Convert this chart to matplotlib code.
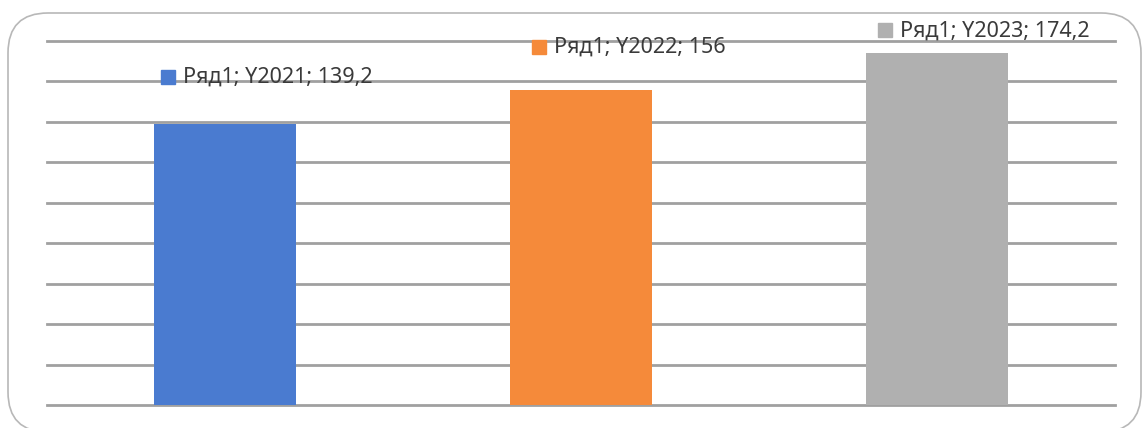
import matplotlib.pyplot as plt
import matplotlib.transforms as mtransforms
from matplotlib.patches import FancyBboxPatch

# data
series = "Ряд1"
years = ["Y2021", "Y2022", "Y2023"]
values = [139.2, 156, 174.2]
labels = ["139,2", "156", "174,2"]
colors = ["#4a7bd0", "#f58a3a", "#b0b0b0"]

# label offsets in pixels (marker dx, dy), text starts 15 px right of marker
lab_off = [(-57, 47), (-42, 43), (-52, 23)]

W, H = 1142, 428
fig = plt.figure(figsize=(W / 100, H / 100), dpi=100)

# rounded chart border (bottom runs off the picture)
border = FancyBboxPatch((8 / W, -4 / H), 1133 / W, (H - 13 + 4) / H,
                        boxstyle="round,pad=0,rounding_size=0.035",
                        transform=fig.transFigure, fc="none", ec="#b8b8b8",
                        lw=1.2, mutation_aspect=W / H, zorder=-1)
fig.patches.append(border)

ax = fig.add_axes([47 / W, (H - 405) / H, 1068 / W, 364 / H])
ax.set_facecolor("none")

x = range(len(values))
ax.bar(x, values, width=0.4, color=colors, zorder=3)

for g in range(0, 181, 20):
    ax.axhline(g, color="#a0a0a0", lw=2, zorder=1, clip_on=False)

ax.set_xlim(-0.5, 2.5)
ax.set_ylim(0, 180)
ax.axis("off")

for i, v in enumerate(values):
    dx, dy = lab_off[i]
    tr = ax.transData + mtransforms.ScaledTranslation(dx / 100, dy / 100, fig.dpi_scale_trans)
    ax.plot(i, v, marker="s", ms=10, color=colors[i], transform=tr, zorder=5,
            clip_on=False)
    ax.annotate(f"{series}; {years[i]}; {labels[i]}", xy=(i, v),
                xytext=((dx + 15) * 0.72, (dy - 1) * 0.72), textcoords="offset points",
                ha="left", va="center", fontsize=15.5, family="Noto Sans",
                color="#3a3a3a", zorder=6, annotation_clip=False)

fig.savefig("out.png", dpi=100)
